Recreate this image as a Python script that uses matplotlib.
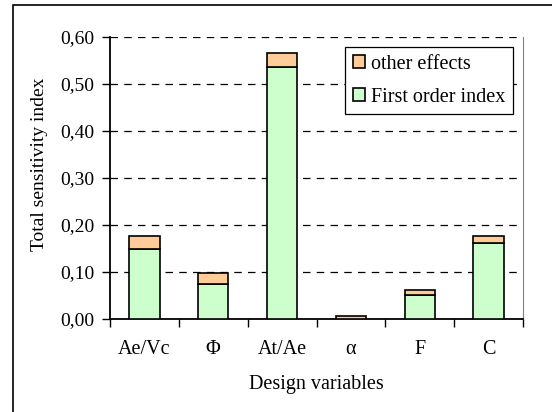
import numpy as np
import matplotlib.pyplot as plt
from matplotlib.patches import Rectangle

# ==========================
# Data
# ==========================
variables = ["Ae/Vc", "Φ", "At/Ae", "α", "F", "C"]
first_order = [0.148, 0.075, 0.537, 0.001, 0.052, 0.162]
other_effects = [0.029, 0.023, 0.028, 0.006, 0.010, 0.014]
y_ticks = [0.0, 0.1, 0.2, 0.3, 0.4, 0.5, 0.6]

green = "#CCFFCC"
orange = "#FFCC99"

plt.rcParams["font.family"] = ["Liberation Serif", "DejaVu Serif"]
plt.rcParams["font.size"] = 14

W, H = 552, 412
fig = plt.figure(figsize=(W / 100, H / 100), dpi=100)
ax = fig.add_axes([110 / W, 1 - 319 / H, 413 / W, 282 / H])

# outer chart border (right / bottom edges are cut off in the picture)
fig.patches.append(Rectangle((13 / W, -0.1), 2.0, 1.1 - 5 / H, transform=fig.transFigure,
                             fill=False, ec="black", lw=1.2))

x = np.arange(len(variables))
b1 = ax.bar(x, first_order, width=0.44, color=green, edgecolor="black", lw=1.2, zorder=3,
            label="First order index")
b2 = ax.bar(x, other_effects, width=0.44, bottom=first_order, color=orange,
            edgecolor="black", lw=1.2, zorder=3, label="other effects")

ax.set_xlim(-0.5, len(variables) - 0.5)
ax.set_ylim(0, 0.6)
ax.set_yticks(y_ticks)
ax.set_yticklabels([f"{v:.2f}".replace(".", ",") for v in y_ticks])
ax.set_xticks(x)
ax.set_xticklabels(variables, fontsize=14.5)
ax.set_xticks(np.arange(len(variables) + 1) - 0.5, minor=True)
ax.tick_params(axis="x", which="major", length=0, pad=15)
ax.tick_params(axis="x", which="minor", length=6, width=1.0, direction="out")
ax.tick_params(axis="y", length=6, width=1.0, direction="out", pad=5)

for yv in y_ticks[1:]:
    ax.axhline(yv, color="black", lw=0.9, ls=(0, (6, 5)), zorder=1)

ax.spines["top"].set_visible(False)
ax.spines["right"].set_color("#808080")
ax.spines["left"].set_linewidth(1.3)
ax.spines["bottom"].set_linewidth(1.3)

fig.text(316 / W, 1 - 385 / H, "Design variables", ha="center", va="center", fontsize=14.5)
fig.text(40 / W, 1 - 164 / H, "Total sensitivity index", ha="center", va="center", rotation=90)

leg = ax.legend([b2, b1], ["other effects", "First order index"],
                loc="upper left", bbox_to_anchor=(345 / W, 1 - 47 / H),
                bbox_transform=fig.transFigure, fancybox=False, framealpha=1,
                edgecolor="black", fontsize=14.5, handlelength=0.6, handleheight=0.6,
                handletextpad=0.3, borderpad=0.38, labelspacing=0.7, borderaxespad=0)
leg.get_frame().set_linewidth(0.9)

fig.savefig("out.png", dpi=100)
